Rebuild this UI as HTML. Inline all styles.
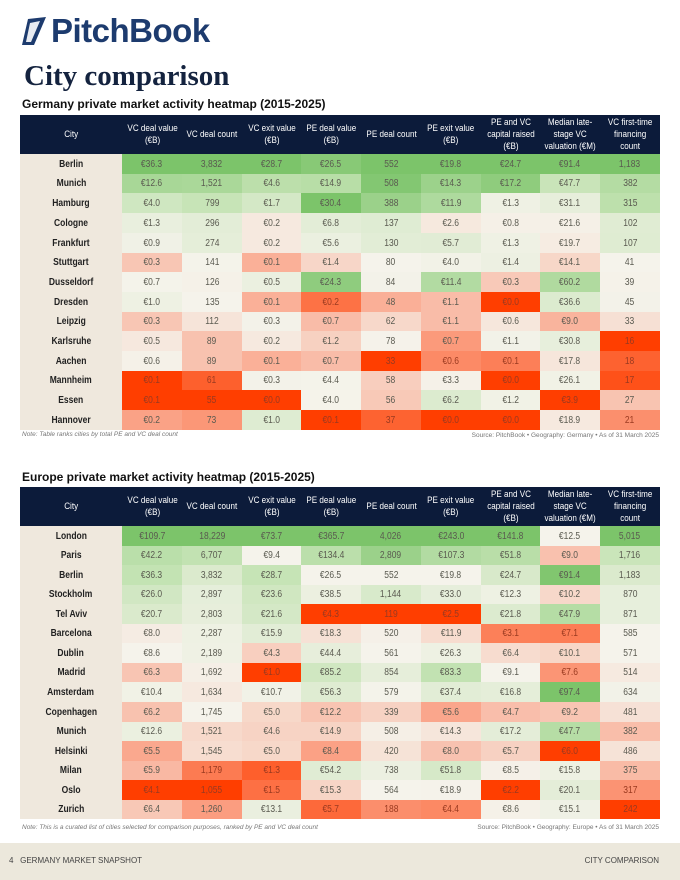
<!DOCTYPE html>
<html><head><meta charset="utf-8">
<style>
*{margin:0;padding:0;box-sizing:border-box}
body{width:680px;height:880px;background:#fff;position:relative;overflow:hidden;font-family:"Liberation Sans Narrow","Liberation Sans",sans-serif;}
.abs{position:absolute}
.logo{left:20px;top:12px;font-family:"Liberation Sans",sans-serif;font-size:33px;font-weight:bold;color:#1d3b6e;letter-spacing:-0.5px;display:flex;align-items:center}
.title{left:24px;top:60px;font-family:"Liberation Serif",serif;font-weight:bold;font-size:29px;color:#14233f}
.sub{left:22px;font-weight:bold;font-size:12px;color:#111}
.hdr{background:#0c1b3a;color:#fff;font-size:9.5px;display:flex;align-items:center;justify-content:center;text-align:center;line-height:12px}
.hdr span{display:inline-block;transform:scaleX(0.85);white-space:nowrap}
.cell{display:flex;align-items:center;justify-content:center;font-size:10px;color:#5a5a50}
.cell span{display:inline-block;transform:scaleX(0.85)}
.city{background:#efe8dd;color:#222;font-weight:bold;font-size:10px}
.note{font-size:6.5px;color:#777;font-style:italic}
.src{font-size:6.5px;color:#777;text-align:right}
.foot{left:0;top:843px;width:680px;height:37px;background:#ece8dc;font-family:"Liberation Sans",sans-serif;font-size:8px;color:#444}
</style></head>
<body>
<div class="abs logo"><svg width="28" height="32" viewBox="0 0 28 32" style="margin-right:3px"><path d="M8 4 L26 2 L14 30 L2 30 Z" fill="#1d3b6e"/><path d="M10 8 L20 6 L11 27 L6 27 Z" fill="#fff" opacity="0.9"/></svg>PitchBook</div>
<div class="abs title">City comparison</div>
<div class="abs sub" style="top:97px">Germany private market activity heatmap (2015-2025)</div>
<div class="abs sub" style="top:470px">Europe private market activity heatmap (2015-2025)</div>
<div id="t1"></div>
<div id="t2"></div>
<div class="abs note" style="left:22px;top:431px">Note: Table ranks cities by total PE and VC deal count</div>
<div class="abs src" style="right:21px;top:432px">Source: PitchBook • Geography: Germany • As of 31 March 2025</div>
<div class="abs note" style="left:22px;top:824px">Note: This is a curated list of cities selected for comparison purposes, ranked by PE and VC deal count</div>
<div class="abs src" style="right:21px;top:824px">Source: PitchBook • Geography: Europe • As of 31 March 2025</div>
<div class="abs foot">
<span class="abs" style="left:9px;top:13px">4&nbsp;&nbsp; GERMANY MARKET SNAPSHOT</span>
<span class="abs" style="right:21px;top:13px">CITY COMPARISON</span>
</div>
<script>
const headers=["City","VC deal value<br>(€B)","VC deal count","VC exit value<br>(€B)","PE deal value<br>(€B)","PE deal count","PE exit value<br>(€B)","PE and VC<br>capital raised<br>(€B)","Median late-<br>stage VC<br>valuation (€M)","VC first-time<br>financing<br>count"];
const isMoney=[true,false,true,true,false,true,true,true,false];
const deCities=["Berlin","Munich","Hamburg","Cologne","Frankfurt","Stuttgart","Dusseldorf","Dresden","Leipzig","Karlsruhe","Aachen","Mannheim","Essen","Hannover"];
const deVcVal=[36.3,12.6,4.0,1.3,0.9,0.3,0.7,1.0,0.3,0.5,0.6,0.1,0.1,0.2];
const deVcCnt=[3832,1521,799,296,274,141,126,135,112,89,89,61,55,73];
const deVcExit=[28.7,4.6,1.7,0.2,0.2,0.1,0.5,0.1,0.3,0.2,0.1,0.3,0.0,1.0];
const dePeVal=[26.5,14.9,30.4,6.8,5.6,1.4,24.3,0.2,0.7,1.2,0.7,4.4,4.0,0.1];
const dePeCnt=[552,508,388,137,130,80,84,48,62,78,33,58,56,37];
const dePeExit=[19.8,14.3,11.9,2.6,5.7,4.0,11.4,1.1,1.1,0.7,0.6,3.3,6.2,0.0];
const deCap=[24.7,17.2,1.3,0.8,1.3,1.4,0.3,0.0,0.6,1.1,0.1,0.0,1.2,0.0];
const deMedian=[91.4,47.7,31.1,21.6,19.7,14.1,60.2,36.6,9.0,30.8,17.8,26.1,3.9,18.9];
const deFirst=[1183,382,315,102,107,41,39,45,33,16,18,17,27,21];
const euCities=["London","Paris","Berlin","Stockholm","Tel Aviv","Barcelona","Dublin","Madrid","Amsterdam","Copenhagen","Munich","Helsinki","Milan","Oslo","Zurich"];
const euVcVal=[109.7,42.2,36.3,26.0,20.7,8.0,8.6,6.3,10.4,6.2,12.6,5.5,5.9,4.1,6.4];
const euVcCnt=[18229,6707,3832,2897,2803,2287,2189,1692,1634,1745,1521,1545,1179,1055,1260];
const euVcExit=[73.7,9.4,28.7,23.6,21.6,15.9,4.3,1.0,10.7,5.0,4.6,5.0,1.3,1.5,13.1];
const euPeVal=[365.7,134.4,26.5,38.5,4.3,18.3,44.4,85.2,56.3,12.2,14.9,8.4,54.2,15.3,5.7];
const euPeCnt=[4026,2809,552,1144,119,520,561,854,579,339,508,420,738,564,188];
const euPeExit=[243.0,107.3,19.8,33.0,2.5,11.9,26.3,83.3,37.4,5.6,14.3,8.0,51.8,18.9,4.4];
const euCap=[141.8,51.8,24.7,12.3,21.8,3.1,6.4,9.1,16.8,4.7,17.2,5.7,8.5,2.2,8.6];
const euMedian=[12.5,9.0,91.4,10.2,47.9,7.1,10.1,7.6,97.4,9.2,47.7,6.0,15.8,20.1,15.1];
const euFirst=[5015,1716,1183,870,871,585,571,514,634,481,382,486,375,317,242];

function lerp(a,b,t){return a.map((v,i)=>Math.round(v+(b[i]-v)*t));}
const W=[245,243,235],GM=[196,227,180],G=[124,196,106],RM=[250,172,148],R=[255,62,0];
function colorScale(vals){
  const pos=vals.filter(v=>v>0);const mn=Math.min(...pos)/2;
  const L=vals.map(v=>Math.log(Math.max(v,mn)));
  const s=[...L].sort((a,b)=>a-b);const n=s.length;
  const med=n%2?s[(n-1)/2]:(s[n/2-1]+s[n/2])/2;
  const lo=s[0],hi=s[n-1];
  return v=>{const l=Math.log(Math.max(v,mn));let c;let red=false;
    if(l>=med){let t=hi>med?(l-med)/(hi-med):0;t=Math.pow(t,1.2);c=t<0.5?lerp(W,GM,t*2):lerp(GM,G,(t-0.5)*2);}
    else{let t=med>lo?(med-l)/(med-lo):0;t=Math.pow(t,1.3);red=t>0.6;c=t<0.5?lerp(W,RM,t*2):lerp(RM,R,(t-0.5)*2);}
    return {bg:`rgb(${c})`,red:red};};
}
function fmt(v,m){return m?"€"+v.toFixed(1):v.toLocaleString("en-US");}
function build(host,top,cities,cols,rowH){
  const x0=20,cityW=102,colW=(640-cityW)/9,hH=39;
  const root=document.getElementById(host);
  headers.forEach((h,i)=>{const d=document.createElement("div");
    d.className="abs hdr";d.innerHTML="<span>"+h+"</span>";
    
    
    d.style.cssText=`left:${i?x0+cityW+(i-1)*colW:x0}px;top:${top}px;width:${i?colW+0.5:cityW}px;height:${hH}px`;
    root.appendChild(d);});
  const scales=cols.map(colorScale);
  cities.forEach((c,r)=>{const y=Math.round(top+hH+r*rowH);const y2=Math.round(top+hH+(r+1)*rowH);const h=y2-y;
    const d=document.createElement("div");d.className="abs cell city";d.innerHTML="<span>"+c+"</span>";
    
    
    d.style.cssText=`left:${x0}px;top:${y}px;width:${cityW}px;height:${h}px`;root.appendChild(d);
    cols.forEach((col,j)=>{const v=col[r];const sc=scales[j](v);
      const e=document.createElement("div");e.className="abs cell";e.innerHTML="<span>"+fmt(v,isMoney[j])+"</span>";
      
      
      const xl=Math.round(x0+cityW+j*colW),xr=Math.round(x0+cityW+(j+1)*colW);
      e.style.cssText=`left:${xl}px;top:${y}px;width:${xr-xl}px;height:${h}px;background:${sc.bg};color:${sc.red?'#9a3a20':'#5a5a50'}`;
      root.appendChild(e);});
  });
}
build("t1",115,deCities,[deVcVal,deVcCnt,deVcExit,dePeVal,dePeCnt,dePeExit,deCap,deMedian,deFirst],19.7);
build("t2",487,euCities,[euVcVal,euVcCnt,euVcExit,euPeVal,euPeCnt,euPeExit,euCap,euMedian,euFirst],19.55);
</script>
</body></html>
